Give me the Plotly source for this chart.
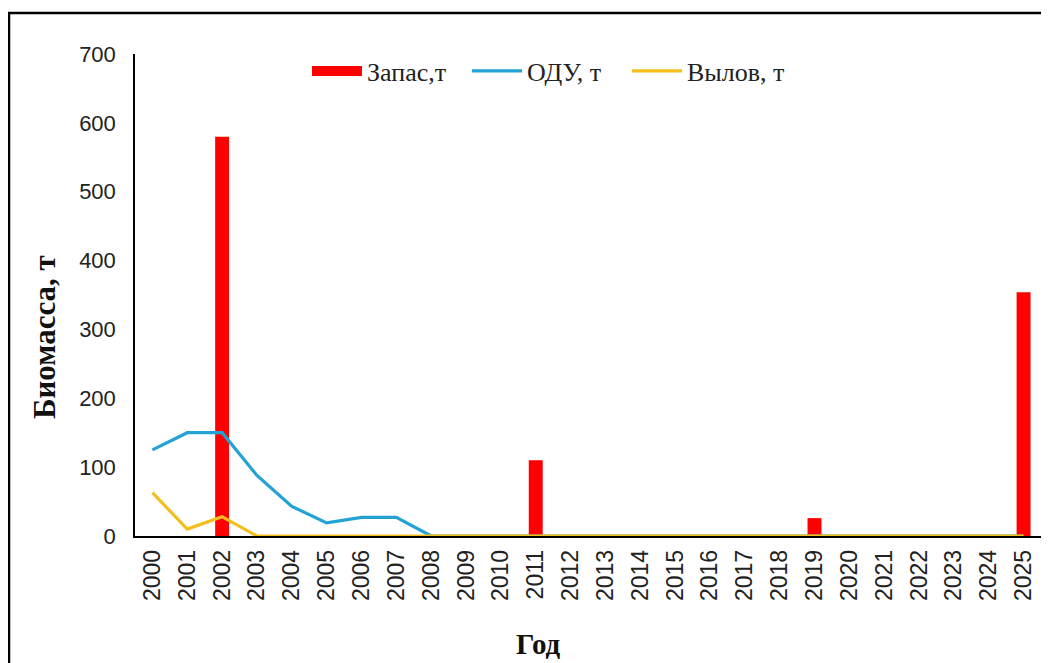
import plotly.graph_objects as go

years = [str(y) for y in range(2000, 2026)]
zapas = [None, None, 580, None, None, None, None, None, None, None, None, 110,
         None, None, None, None, None, None, None, 26, None, None, None, None, None, 354]
odu = [125, 150, 150, 88, 43, 19, 27, 27, 0, 0, 0, 0, 0, 0, 0, 0, 0, 0, 0, 0, 0, 0, 0, 0, 0, 0]
vylov = [63, 10, 28, 0, 0, 0, 0, 0, 0, 0, 0, 0, 0, 0, 0, 0, 0, 0, 0, 0, 0, 0, 0, 0, 0, 0]

RED = "#FF0000"
BLUE = "#22A3D4"
GOLD = "#F4BF1C"
SERIF = "Liberation Serif, Times New Roman, serif"
SANS = "Liberation Sans, Arial, sans-serif"

fig = go.Figure()
fig.add_trace(go.Bar(x=years, y=zapas, name="Запас,т", marker=dict(color=RED, line=dict(width=0)),
                     showlegend=False, legendgroup="z"))
# legend proxy for the bar series (wide red patch like the original)
fig.add_trace(go.Scatter(x=[None], y=[None], mode="lines", name="Запас,т",
                         line=dict(color=RED, width=15), legendgroup="z"))
fig.add_trace(go.Scatter(x=years, y=odu, mode="lines", name="ОДУ, т",
                         line=dict(color=BLUE, width=3.2), cliponaxis=False))
fig.add_trace(go.Scatter(x=years, y=vylov, mode="lines", name="Вылов, т",
                         line=dict(color=GOLD, width=3.2), cliponaxis=False))

# page body adds an 8px offset; figure coordinates below are screen - 8
W, H = 1041, 655
L, R, T, B = 127, 8, 46, 127
pw, ph = W - L - R, H - T - B

def px(x):
    return (x - L) / pw

def py(y):
    return (H - B - y) / ph

fig.update_layout(
    width=W, height=H,
    margin=dict(l=L, r=R, t=T, b=B),
    paper_bgcolor="white", plot_bgcolor="white",
    bargap=0.6,
    showlegend=True,
    legend=dict(orientation="h", x=px(299), y=py(63), xanchor="left", yanchor="middle",
                font=dict(family=SERIF, size=26, color="#222"), bgcolor="rgba(0,0,0,0)",
                traceorder="normal", itemwidth=50, entrywidth=95),
    xaxis=dict(type="category", range=[-0.5, 25.5], showgrid=False, showline=True,
               linecolor="black", linewidth=1.5, tickangle=-90, ticks="", ticklabelstandoff=3,
               tickfont=dict(family=SANS, size=23, color="#222"), zeroline=False),
    yaxis=dict(range=[0, 700], dtick=100, showgrid=False, showline=True,
               linecolor="black", linewidth=1.5, ticks="", ticklabelstandoff=13,
               tickfont=dict(family=SANS, size=22, color="#222"), zeroline=False),
    shapes=[dict(type="rect", xref="paper", yref="paper",
                 x0=px(1), x1=px(1060), y0=py(672), y1=py(5),
                 line=dict(color="black", width=2.5), fillcolor="rgba(0,0,0,0)", layer="above")],
    annotations=[
        dict(text="<b>Биомасса, т</b>", xref="paper", yref="paper", x=px(36), y=py(329),
             textangle=-90, showarrow=False, font=dict(family=SERIF, size=31, color="#111"),
             xanchor="center", yanchor="middle"),
        dict(text="<b>Год</b>", xref="paper", yref="paper", x=px(530), y=py(636),
             showarrow=False, font=dict(family=SERIF, size=29, color="#111"),
             xanchor="center", yanchor="middle"),
    ],
)

fig.write_html("out.html")
